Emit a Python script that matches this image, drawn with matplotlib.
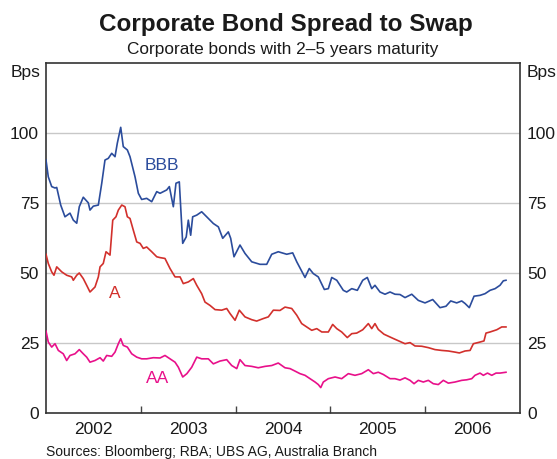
import matplotlib
matplotlib.use('Agg')
import matplotlib.pyplot as plt

plt.rcParams['font.family'] = ['Liberation Sans', 'DejaVu Sans']

# ---------------- data (decimal years, basis points) ----------------
bbb_t = [2002.000, 2002.024, 2002.060, 2002.095, 2002.113, 2002.155, 2002.200, 2002.253, 2002.288, 2002.324,
         2002.351, 2002.393, 2002.446, 2002.464, 2002.499, 2002.552, 2002.588, 2002.622, 2002.657, 2002.693,
         2002.728, 2002.752, 2002.788, 2002.815, 2002.858, 2002.886, 2002.939, 2002.974, 2003.009, 2003.062,
         2003.115, 2003.168, 2003.203, 2003.273, 2003.301, 2003.343, 2003.371, 2003.406, 2003.442, 2003.479,
         2003.501, 2003.526, 2003.547, 2003.590, 2003.642, 2003.695, 2003.765, 2003.818, 2003.864, 2003.923,
         2003.948, 2003.983, 2004.046, 2004.099, 2004.170, 2004.257, 2004.328, 2004.381, 2004.450, 2004.539,
         2004.602, 2004.645, 2004.732, 2004.777, 2004.819, 2004.872, 2004.936, 2004.978, 2005.014, 2005.067,
         2005.136, 2005.172, 2005.225, 2005.284, 2005.341, 2005.389, 2005.436, 2005.470, 2005.523, 2005.576,
         2005.629, 2005.681, 2005.734, 2005.787, 2005.858, 2005.927, 2005.998, 2006.079, 2006.156, 2006.219,
         2006.269, 2006.332, 2006.385, 2006.420, 2006.465, 2006.515, 2006.578, 2006.631, 2006.684, 2006.737,
         2006.789, 2006.824, 2006.852]
bbb_v = [90.3, 84.3, 80.8, 80.3, 80.5, 74.2, 70, 71.3, 68.8, 67.7,
         73.6, 77, 75, 72.4, 73.8, 74.2, 82, 90.3, 90.9, 92.7,
         91.5, 96.3, 102, 95.1, 93.9, 91.5, 84.3, 78.4, 76.2, 76.6,
         75.4, 79, 78.4, 79.6, 80.8, 73.6, 82, 82.5, 60.5, 62.8,
         68.8, 63.4, 70, 70.6, 71.8, 70, 67.6, 66.4, 62.3, 64.6,
         62.3, 55.7, 59.9, 56.9, 53.9, 53, 53, 56.6, 57.5, 56.6,
         57.1, 53.9, 48.3, 51.5, 49.7, 48.5, 44, 44.3, 48.3, 47.3,
         43.7, 43.1, 44.3, 43.7, 47.3, 48.3, 44.3, 45.5, 43.1, 42.3,
         43.1, 42.3, 42.2, 41.1, 42.3, 40.1, 39.2, 40.4, 37.5, 38,
         39.9, 39.2, 39.9, 39, 37.5, 41.6, 41.9, 42.5, 43.7, 44.3,
         45.5, 47.1, 47.3]

a_t = [2002.000, 2002.024, 2002.060, 2002.084, 2002.113, 2002.166, 2002.218, 2002.271, 2002.288, 2002.324,
       2002.351, 2002.393, 2002.429, 2002.464, 2002.517, 2002.552, 2002.570, 2002.604, 2002.633, 2002.675,
       2002.704, 2002.738, 2002.763, 2002.799, 2002.833, 2002.858, 2002.886, 2002.921, 2002.957, 2002.992,
       2003.026, 2003.062, 2003.115, 2003.168, 2003.203, 2003.255, 2003.308, 2003.361, 2003.414, 2003.448,
       2003.501, 2003.554, 2003.590, 2003.642, 2003.677, 2003.730, 2003.783, 2003.853, 2003.906, 2003.941,
       2003.994, 2004.039, 2004.099, 2004.170, 2004.222, 2004.292, 2004.345, 2004.398, 2004.468, 2004.521,
       2004.592, 2004.645, 2004.697, 2004.750, 2004.803, 2004.856, 2004.909, 2004.978, 2005.024, 2005.067,
       2005.119, 2005.178, 2005.225, 2005.277, 2005.341, 2005.400, 2005.436, 2005.470, 2005.505, 2005.565,
       2005.629, 2005.681, 2005.734, 2005.787, 2005.840, 2005.892, 2005.963, 2006.033, 2006.103, 2006.174,
       2006.244, 2006.314, 2006.360, 2006.420, 2006.473, 2006.508, 2006.578, 2006.620, 2006.641, 2006.684,
       2006.755, 2006.807, 2006.852]
a_v = [56.6, 53.3, 50.3, 49.1, 52.1, 50.3, 49.1, 48.5, 47.3, 49.1,
       49.9, 47.9, 45.5, 43.1, 44.9, 48.5, 52.1, 53.3, 57.5, 56.3,
       68.8, 70, 72.4, 74.2, 73.6, 70, 69.4, 65.2, 61, 60.5,
       58.7, 59.2, 57.5, 55.7, 55.4, 55.1, 51.5, 48.5, 48.5, 46.1,
       46.7, 47.9, 45.5, 42.5, 39.5, 38.3, 36.8, 36.6, 37.2, 35.4,
       33, 36.6, 34.2, 33.2, 32.7, 33.6, 34.2, 36.6, 36.5, 37.7,
       37.2, 34.8, 31.8, 30.6, 29.4, 30, 28.8, 28.8, 31.5, 30,
       28.8, 26.8, 28.2, 28.4, 29.6, 31.8, 30, 31.8, 29.7, 28,
       27, 26.2, 25.4, 24.6, 25, 23.8, 23.7, 23.2, 22.5, 22.2,
       22, 21.6, 21.3, 22, 22.2, 24.6, 25.2, 25.6, 28.4, 28.8,
       29.6, 30.6, 30.6]

aa_t = [2002.000, 2002.024, 2002.060, 2002.095, 2002.130, 2002.182, 2002.218, 2002.253, 2002.306, 2002.351,
        2002.393, 2002.429, 2002.464, 2002.517, 2002.570, 2002.604, 2002.640, 2002.693, 2002.728, 2002.763,
        2002.788, 2002.815, 2002.858, 2002.904, 2002.957, 2003.009, 2003.062, 2003.132, 2003.203, 2003.255,
        2003.308, 2003.361, 2003.396, 2003.442, 2003.486, 2003.537, 2003.590, 2003.642, 2003.712, 2003.765,
        2003.835, 2003.906, 2003.959, 2004.012, 2004.046, 2004.099, 2004.170, 2004.239, 2004.310, 2004.381,
        2004.450, 2004.521, 2004.574, 2004.627, 2004.679, 2004.732, 2004.785, 2004.838, 2004.872, 2004.898,
        2004.925, 2004.978, 2005.049, 2005.119, 2005.189, 2005.259, 2005.330, 2005.400, 2005.453, 2005.505,
        2005.558, 2005.629, 2005.681, 2005.734, 2005.787, 2005.840, 2005.882, 2005.927, 2005.980, 2006.033,
        2006.085, 2006.138, 2006.191, 2006.244, 2006.314, 2006.385, 2006.438, 2006.491, 2006.525, 2006.578,
        2006.613, 2006.657, 2006.702, 2006.747, 2006.789, 2006.852]
aa_v = [29.1, 25.2, 23.4, 24.6, 22.2, 21, 18.6, 20.4, 21, 22.5,
        21, 19.8, 18, 18.6, 19.6, 18.4, 20.4, 20.1, 21.6, 24.6,
        26.4, 24, 23.4, 21, 19.8, 19.2, 19.2, 19.6, 19.5, 20.4,
        19.2, 18, 16.2, 12.7, 13.9, 16.2, 19.8, 19.2, 19.2, 17.4,
        18.4, 18.9, 16.8, 15.7, 18.9, 16.8, 16.5, 16, 16.5, 16.8,
        17.7, 16, 15.7, 14.8, 13.9, 13.3, 12.1, 10.9, 10, 8.9,
        10.9, 12.1, 12.7, 12.1, 13.9, 13.3, 13.9, 15.3, 13.9, 14.4,
        13.6, 12.1, 12.1, 11.6, 12.4, 11.5, 10.3, 11.5, 10.9, 11.5,
        10.3, 10, 11.5, 10.5, 10.9, 11.5, 11.7, 12.1, 13.3, 14.1,
        13.3, 14.1, 13.3, 14.1, 14.1, 14.4]

year_labels = ['2002', '2003', '2004', '2005', '2006']
y_ticks = [0, 25, 50, 75, 100]

c_bbb = '#2b4c9c'
c_a = '#d2302c'
c_aa = '#e8108a'

# ---------------- figure ----------------
fig = plt.figure(figsize=(5.57, 4.59), dpi=100)
ax = fig.add_axes([0.0826, 0.1013, 0.851, 0.7614])

for yv in y_ticks[1:]:
    ax.axhline(yv, color='#c8c8c8', lw=1.0, zorder=0)

ax.plot(bbb_t, bbb_v, color=c_bbb, lw=1.2, zorder=3)
ax.plot(a_t, a_v, color=c_a, lw=1.2, zorder=3)
ax.plot(aa_t, aa_v, color=c_aa, lw=1.2, zorder=3)

ax.text(2003.217, 88.5, 'BBB', color=c_bbb, fontsize=12.5, ha='center', va='center')
ax.text(2002.725, 42.5, 'A', color=c_a, fontsize=12.5, ha='center', va='center')
ax.text(2003.181, 12.1, 'AA', color=c_aa, fontsize=12.5, ha='center', va='center')

ax.set_xlim(2002, 2007)
ax.set_ylim(0, 125)

ax.set_yticks(y_ticks)
ax.tick_params(axis='y', length=0, labelsize=12.5, pad=5, labelright=True, right=False,
               colors='#1a1a1a')

ax.set_xticks([2003, 2004, 2005, 2006])
ax.set_xticklabels([])
ax.set_xticks([y + 0.5 for y in range(2002, 2007)], minor=True)
ax.set_xticklabels(year_labels, minor=True)
ax.tick_params(axis='x', which='major', direction='in', length=5, width=1.0, color='#444444')
ax.tick_params(axis='x', which='minor', length=0, labelsize=12.5, pad=6.5, labelcolor='#1a1a1a')

for s in ax.spines.values():
    s.set_color('#333333')
    s.set_linewidth(1.2)

fig.text(0.073, 0.833, 'Bps', ha='right', va='baseline', fontsize=12.5, color='#1a1a1a')
fig.text(0.946, 0.833, 'Bps', ha='left', va='baseline', fontsize=12.5, color='#1a1a1a')

fig.text(0.5126, 0.932, 'Corporate Bond Spread to Swap', ha='center', va='baseline',
         fontsize=17.5, fontweight='bold', color='#1a1a1a')
fig.text(0.508, 0.882, 'Corporate bonds with 2\u20135 years maturity', ha='center', va='baseline',
         fontsize=12.4, color='#1a1a1a')

fig.text(0.0826, 0.006, 'Sources: Bloomberg; RBA; UBS AG, Australia Branch', ha='left', va='baseline',
         fontsize=10, color='#1a1a1a')

fig.savefig('out.png', dpi=100)
